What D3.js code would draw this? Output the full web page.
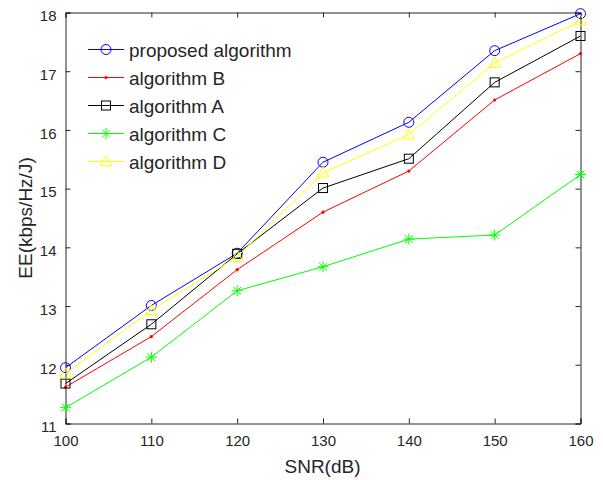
<!DOCTYPE html>
<html>
<head>
<meta charset="utf-8">
<script src="https://cdn.jsdelivr.net/npm/d3@7"></script>
<style>
  body { margin: 0; background: #fff; }
  text { font-family: "Liberation Sans", Arial, sans-serif; fill: #262626; }
</style>
</head>
<body>
<div id="chart"></div>
<script>
// data
var snr = [100, 110, 120, 130, 140, 150, 160];
var proposed = [11.95, 13.01, 13.9, 15.45, 16.13, 17.35, 17.98];
var algB = [11.62, 12.48, 13.62, 14.60, 15.30, 16.51, 17.30];
var algA = [11.68, 12.69, 13.89, 15.01, 15.51, 16.81, 17.60];
var algC = [11.27, 12.13, 13.26, 13.67, 14.14, 14.21, 15.24];
var algD = [11.85, 12.93, 13.84, 15.27, 15.92, 17.14, 17.86];
var xTicks = [100, 110, 120, 130, 140, 150, 160];
var yTicks = [11, 12, 13, 14, 15, 16, 17, 18];

var series = [
  {name: "proposed algorithm", values: proposed, color: "#0000ff", marker: "circle"},
  {name: "algorithm B", values: algB, color: "#ff0000", marker: "dot"},
  {name: "algorithm A", values: algA, color: "#000000", marker: "square"},
  {name: "algorithm C", values: algC, color: "#00ff00", marker: "star"},
  {name: "algorithm D", values: algD, color: "#ffff00", marker: "triangle"}
];

var svgWidth = 603;
var svgHeight = 480;
var margin = {top: 12.5, right: 22.5, bottom: 56.5, left: 65.5};
var width = svgWidth - margin.left - margin.right;
var height = svgHeight - margin.top - margin.bottom;

var svg = d3.select("#chart").append("svg")
  .attr("width", svgWidth)
  .attr("height", svgHeight);

var chartGroup = svg.append("g")
  .attr("transform", `translate(${margin.left}, ${margin.top})`);

var xScale = d3.scaleLinear().domain([100, 160]).range([0, width]);
var yScale = d3.scaleLinear().domain([11, 18]).range([height, 0]);

var axisColor = "#262626";
var fmt = d3.format("d");

// axes, ticks pointing inward, mirrored on top and right
var bottomAxis = d3.axisBottom(xScale).tickValues(xTicks).tickFormat(fmt).tickSize(-5).tickPadding(12);
var leftAxis = d3.axisLeft(yScale).tickValues(yTicks).tickFormat(fmt).tickSize(-5).tickPadding(9);
var topAxis = d3.axisTop(xScale).tickValues(xTicks).tickSize(-5).tickFormat("");
var rightAxis = d3.axisRight(yScale).tickValues(yTicks).tickSize(-5).tickFormat("");

function styleAxis(g) {
  g.select(".domain").attr("stroke", axisColor);
  g.selectAll(".tick line").attr("stroke", axisColor);
  g.selectAll(".tick text").attr("fill", axisColor)
    .style("font-family", "'Liberation Sans', Arial, sans-serif")
    .style("font-size", "15px");
}

chartGroup.append("g").attr("transform", `translate(0, ${height})`).call(bottomAxis).call(styleAxis);
chartGroup.append("g").call(leftAxis).call(styleAxis)
  .selectAll(".tick text").attr("dy", "0.55em");
chartGroup.append("g").call(topAxis).call(styleAxis);
chartGroup.append("g").attr("transform", `translate(${width}, 0)`).call(rightAxis).call(styleAxis);

// markers
function drawMarker(g, type, color, x, y) {
  if (type === "circle") {
    g.append("circle").attr("cx", x).attr("cy", y).attr("r", 5)
      .attr("fill", "none").attr("stroke", color).attr("stroke-width", 1);
  } else if (type === "dot") {
    g.append("circle").attr("cx", x).attr("cy", y).attr("r", 1.6)
      .attr("fill", color).attr("stroke", "none");
  } else if (type === "square") {
    g.append("rect").attr("x", x - 4.5).attr("y", y - 4.5).attr("width", 9).attr("height", 9)
      .attr("fill", "none").attr("stroke", color).attr("stroke-width", 1);
  } else if (type === "triangle") {
    var s = 5.8;
    g.append("path")
      .attr("d", `M${x},${y - s}L${x + s},${y + s * 0.75}L${x - s},${y + s * 0.75}Z`)
      .attr("fill", "none").attr("stroke", color).attr("stroke-width", 1);
  } else if (type === "star") {
    var r = 5.5, d = r * 0.72;
    g.append("path")
      .attr("d", `M${x - r},${y}L${x + r},${y}M${x},${y - r}L${x},${y + r}` +
        `M${x - d},${y - d}L${x + d},${y + d}M${x - d},${y + d}L${x + d},${y - d}`)
      .attr("fill", "none").attr("stroke", color).attr("stroke-width", 1);
  }
}

var line = d3.line()
  .x((d, i) => xScale(snr[i]))
  .y(d => yScale(d));

series.forEach(function(s) {
  var g = chartGroup.append("g");
  g.append("path")
    .attr("d", line(s.values))
    .attr("fill", "none")
    .attr("stroke", s.color)
    .attr("stroke-width", 1);
  s.values.forEach(function(v, i) {
    drawMarker(g, s.marker, s.color, xScale(snr[i]), yScale(v));
  });
});

// legend
var legend = svg.append("g");
series.forEach(function(s, i) {
  var ly = 49.5 + i * 28;
  legend.append("line")
    .attr("x1", 88).attr("x2", 124).attr("y1", ly).attr("y2", ly)
    .attr("stroke", s.color).attr("stroke-width", 1);
  drawMarker(legend, s.marker, s.color, 106, ly);
  legend.append("text")
    .attr("x", 129)
    .attr("y", ly + 7)
    .style("font-size", "19px")
    .text(s.name);
});

// axis labels
svg.append("text")
  .attr("x", margin.left + xScale(130) - 0.5)
  .attr("y", 473)
  .attr("text-anchor", "middle")
  .style("font-size", "19px")
  .text("SNR(dB)");

svg.append("text")
  .attr("transform", `translate(32, ${margin.top + yScale(14.5)}) rotate(-90)`)
  .attr("text-anchor", "middle")
  .style("font-size", "19px")
  .text("EE(kbps/Hz/J)");
</script>
</body>
</html>
